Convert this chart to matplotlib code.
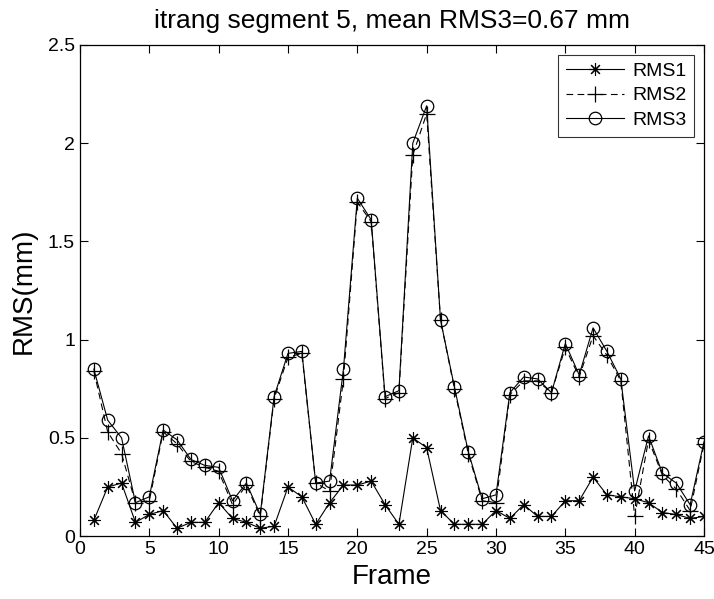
import matplotlib
matplotlib.use("Agg")
import matplotlib.pyplot as plt
import numpy as np

plt.rcParams['font.family'] = ['Liberation Sans', 'DejaVu Sans']

frames = np.arange(1, 46)

rms1 = [0.08, 0.25, 0.27, 0.07, 0.11, 0.13, 0.04, 0.07, 0.07, 0.17,
        0.09, 0.07, 0.04, 0.05, 0.25, 0.20, 0.06, 0.17, 0.26, 0.26,
        0.28, 0.16, 0.06, 0.50, 0.45, 0.13, 0.06, 0.06, 0.06, 0.13,
        0.09, 0.16, 0.10, 0.10, 0.18, 0.18, 0.30, 0.21, 0.20, 0.19,
        0.17, 0.12, 0.11, 0.09, 0.10]

rms2 = [0.84, 0.53, 0.42, 0.17, 0.18, 0.53, 0.47, 0.38, 0.35, 0.33,
        0.16, 0.26, 0.10, 0.70, 0.91, 0.93, 0.27, 0.23, 0.80, 1.70,
        1.60, 0.70, 0.73, 1.94, 2.15, 1.10, 0.75, 0.42, 0.18, 0.17,
        0.72, 0.79, 0.79, 0.73, 0.96, 0.81, 1.02, 0.92, 0.79, 0.10,
        0.49, 0.31, 0.24, 0.13, 0.47]

rms3 = [0.85, 0.59, 0.50, 0.17, 0.20, 0.54, 0.49, 0.39, 0.36, 0.35,
        0.18, 0.27, 0.11, 0.71, 0.93, 0.94, 0.27, 0.28, 0.85, 1.72,
        1.61, 0.71, 0.74, 2.00, 2.19, 1.10, 0.76, 0.43, 0.19, 0.21,
        0.73, 0.81, 0.80, 0.73, 0.98, 0.82, 1.06, 0.94, 0.80, 0.23,
        0.51, 0.32, 0.27, 0.16, 0.48]

fig = plt.figure(figsize=(7.14, 5.99), dpi=100)
ax = fig.add_axes([0.112, 0.105, 0.874, 0.82])

# matlab style asterisk marker
ax.plot(frames, rms1, '-', color='black', lw=0.8, marker=(8, 2, 0), ms=9,
        markeredgewidth=0.8, label='RMS1')
ax.plot(frames, rms2, color='black', lw=0.8, dashes=(6, 4), marker='+', ms=11,
        markeredgewidth=0.9, label='RMS2')
ax.plot(frames, rms3, '-', color='black', lw=0.8, marker='o', ms=9,
        mfc='none', markeredgewidth=0.9, label='RMS3')

ax.set_xlim(0, 45)
ax.set_ylim(0, 2.5)
ax.set_xticks(np.arange(0, 46, 5))
ax.set_yticks([0, 0.5, 1, 1.5, 2, 2.5])
ax.set_yticklabels(['0', '0.5', '1', '1.5', '2', '2.5'])
ax.tick_params(direction='in', top=True, right=True, labelsize=14, length=6, width=0.8)
for s in ax.spines.values():
    s.set_linewidth(0.9)

ax.set_title('itrang segment 5, mean RMS3=0.67 mm', fontsize=19, pad=12)
ax.set_xlabel('Frame', fontsize=20, labelpad=4)
ax.set_ylabel('RMS(mm)', fontsize=20, labelpad=8)

leg = ax.legend(loc='upper right', fontsize=14, frameon=True, fancybox=False,
                edgecolor='black', handlelength=3.0, borderpad=0.4,
                labelspacing=0.35, handletextpad=0.4, borderaxespad=0.5)
leg.get_frame().set_linewidth(0.8)

fig.savefig('out.png', dpi=100)
